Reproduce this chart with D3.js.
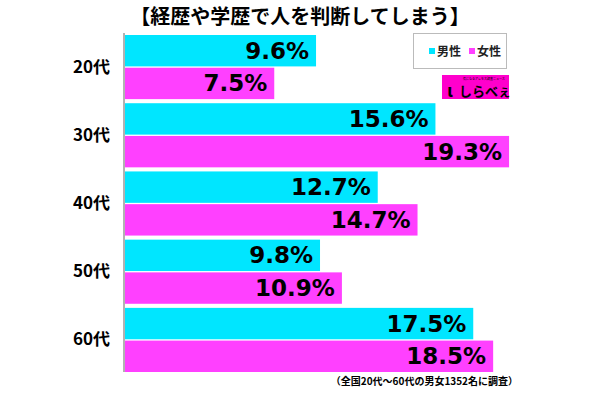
<!DOCTYPE html>
<html>
<head>
<meta charset="utf-8">
<script src="https://cdn.jsdelivr.net/npm/d3@7"></script>
<style>
  body { margin: 0; background: #fff; }
  svg { display: block; }
</style>
</head>
<body>
<svg id="chart" width="600" height="393"></svg>
<script>
const categories = ["20代", "30代", "40代", "50代", "60代"];
const male_values = [9.6, 15.6, 12.7, 9.8, 17.5];
const female_values = [7.5, 19.3, 14.7, 10.9, 18.5];
const series_names = ["男性", "女性"];
const title_text = "【経歴や学歴で人を判断してしまう】";
const note_text = "（全国20代〜60代の男女1352名に調査）";

const colors = ["#00e6ff", "#ff40ff"];
const jp_font = "'Noto Sans CJK JP', sans-serif";
const num_font = "'DejaVu Sans', sans-serif";

const svg = d3.select('#chart');

// scales
const x = d3.scaleLinear().domain([0, 24]).range([125, 125 + 19.9 * 24]);
const y = d3.scaleBand().domain(categories).range([35, 372]).paddingInner(0.06).paddingOuter(0);
const sub = d3.scaleBand().domain([0, 1]).range([0, y.bandwidth()]).paddingInner(0.04);

// title
svg.append('text')
    .attr('x', 300).attr('y', 24)
    .attr('text-anchor', 'middle')
    .style('font-family', jp_font)
    .style('font-weight', 'bold')
    .style('font-size', '20px')
    .text(title_text);

// bars
const groups = svg.selectAll('g.grp')
    .data(categories).enter().append('g')
    .attr('class', 'grp')
    .attr('transform', d => 'translate(0,' + y(d) + ')');

groups.each(function (c, i) {
    const g = d3.select(this);
    const vals = [male_values[i], female_values[i]];
    vals.forEach((v, k) => {
        g.append('rect')
            .attr('x', x(0))
            .attr('y', sub(k))
            .attr('width', x(v) - x(0))
            .attr('height', sub.bandwidth())
            .attr('fill', colors[k]);
        g.append('text')
            .attr('x', x(v) - 7)
            .attr('y', sub(k) + sub.bandwidth() / 2 + 8)
            .attr('text-anchor', 'end')
            .style('font-family', num_font)
            .style('font-weight', 'bold')
            .style('font-size', '23px')
            .attr('fill', '#000')
            .text(v.toFixed(1) + '%');
    });
});

// category axis
const yAxis = d3.axisLeft(y).tickSize(0).tickPadding(14);
const ax = svg.append('g')
    .attr('transform', 'translate(' + (x(0) - 1) + ',0)')
    .call(yAxis);
ax.select('.domain').attr('stroke', '#999').attr('stroke-width', 1.5)
    .attr('d', 'M0,33V372');
ax.selectAll('text')
    .style('font-family', jp_font)
    .style('font-weight', 'bold')
    .style('font-size', '17px')
    .attr('fill', '#000');

// legend
const legend = svg.append('g');
legend.append('rect')
    .attr('x', 413.5).attr('y', 33.5).attr('width', 93).attr('height', 35)
    .attr('fill', '#fff').attr('stroke', '#bbb').attr('stroke-width', 1);
const legX = [429, 469];
series_names.forEach((n, k) => {
    legend.append('rect')
        .attr('x', legX[k]).attr('y', 48).attr('width', 6).attr('height', 6)
        .attr('fill', colors[k]);
    legend.append('text')
        .attr('x', legX[k] + 8).attr('y', 56)
        .style('font-family', jp_font)
        .style('font-size', '12px')
        .style('font-weight', 'bold')
        .attr('fill', '#222')
        .text(n);
});

// logo
const logo = svg.append('g');
logo.append('rect')
    .attr('x', 442).attr('y', 75).attr('width', 67).attr('height', 24)
    .attr('fill', '#f0c');
logo.append('text')
    .attr('x', 447).attr('y', 97)
    .style('font-family', jp_font).style('font-weight', 'bold').style('font-size', '18px')
    .text('ι');
logo.append('text')
    .attr('x', 459).attr('y', 96)
    .style('font-family', jp_font).style('font-weight', 'bold').style('font-size', '13px')
    .text('しらべぇ');
logo.append('text')
    .attr('x', 463).attr('y', 80)
    .style('font-family', jp_font).style('font-size', '3px')
    .text('気になるアレを大調査ニュース');

// footnote
svg.append('text')
    .attr('x', 518).attr('y', 385)
    .attr('text-anchor', 'end')
    .style('font-family', jp_font)
    .style('font-weight', 'bold')
    .style('font-size', '10px')
    .text(note_text);
</script>
</body>
</html>
